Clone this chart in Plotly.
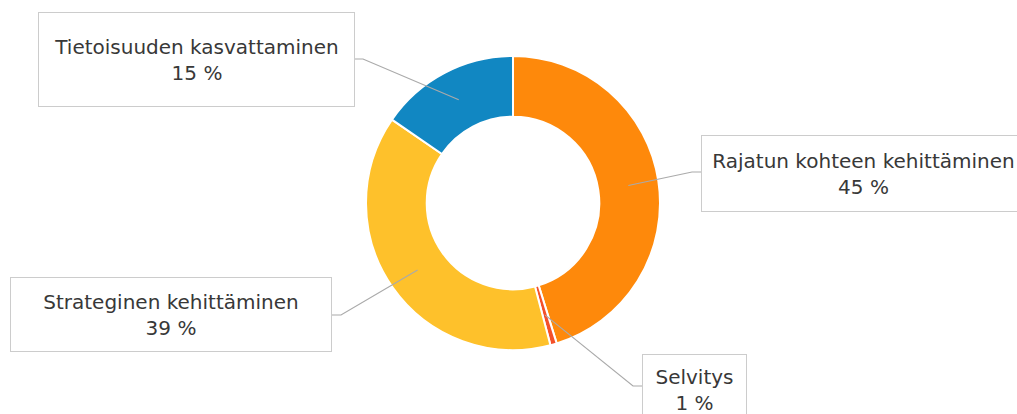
import math
import plotly.graph_objects as go

# ---- data ----
categories = ["Rajatun kohteen kehittäminen", "Selvitys", "Strateginen kehittäminen", "Tietoisuuden kasvattaminen"]
values = [45.2, 0.7, 38.7, 15.4]
pct_labels = ["45 %", "1 %", "39 %", "15 %"]
colors = ["#FE890B", "#F4502A", "#FEC12B", "#1187C2"]

# ---- layout constants (pixels) ----
W, H = 1017, 414
CX, CY, R_OUT = 513, 203, 147
HOLE = 0.587
R_MID = R_OUT * (1 + HOLE) / 2

# label boxes: (left, top, width, height) and elbow point
boxes = {
    "Rajatun kohteen kehittäminen": dict(box=(701, 135, 325, 77), elbow=(692, 172), edge=(701, 172)),
    "Selvitys": dict(box=(642, 354, 105, 72), elbow=(633, 386), edge=(642, 386)),
    "Strateginen kehittäminen": dict(box=(10, 277, 322, 75), elbow=(341, 315), edge=(332, 315)),
    "Tietoisuuden kasvattaminen": dict(box=(38, 12, 317, 95), elbow=(363, 59), edge=(355, 59)),
}

def px(x):
    return x / W

def py(y):
    return 1 - y / H

fig = go.Figure(go.Pie(
    labels=categories,
    values=values,
    sort=False,
    direction="clockwise",
    rotation=0,
    hole=HOLE,
    textinfo="none",
    hoverinfo="skip",
    marker=dict(colors=colors, line=dict(color="white", width=2)),
    domain=dict(x=[px(CX - R_OUT), px(CX + R_OUT)], y=[py(CY + R_OUT), py(CY - R_OUT)]),
    showlegend=False,
))

total = sum(values)
cum = 0.0
shapes = []
annotations = []
for cat, v, pl in zip(categories, values, pct_labels):
    mid = (cum + v / 2) / total * 2 * math.pi
    cum += v
    ax = CX + R_MID * math.sin(mid)
    ay = CY - R_MID * math.cos(mid)
    b = boxes[cat]
    ex, ey = b["elbow"]
    dx, dy = b["edge"]
    shapes.append(dict(
        type="path", xref="paper", yref="paper",
        path=f"M {px(ax)} {py(ay)} L {px(ex)} {py(ey)} L {px(dx)} {py(dy)}",
        line=dict(color="#AAAAAA", width=1.2),
    ))
    l, t, w, h = b["box"]
    annotations.append(dict(
        xref="paper", yref="paper",
        x=px(l + w / 2), y=py(t + h / 2), xanchor="center", yanchor="middle",
        text=f"{cat}<br>{pl}", showarrow=False, align="center",
        width=w - 2, height=h - 2, borderpad=0,
        bordercolor="#CCCCCC", borderwidth=1, bgcolor="white",
        font=dict(family="DejaVu Sans", size=20, color="#383838"),
    ))

fig.update_layout(
    width=W, height=H,
    margin=dict(l=0, r=0, t=0, b=0),
    paper_bgcolor="white", plot_bgcolor="white",
    shapes=shapes, annotations=annotations,
)

fig.write_html(
    "out.html",
    config={"displayModeBar": False},
    post_script="document.body.style.margin='0';document.body.style.overflow='hidden';",
)
